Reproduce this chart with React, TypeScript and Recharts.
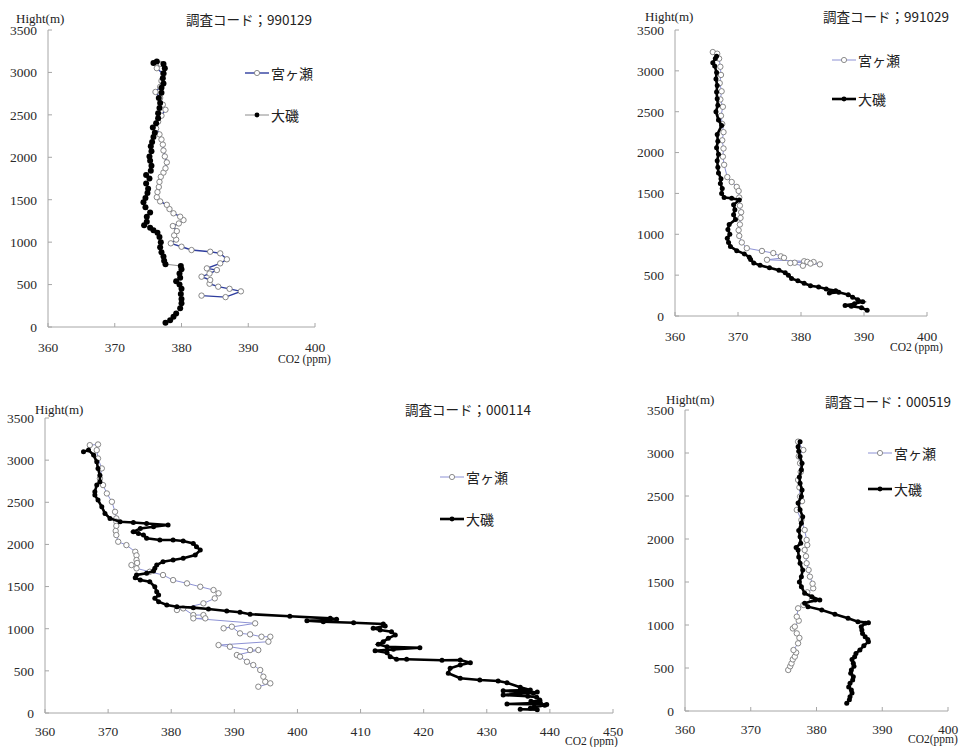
import React from 'react';
import { ScatterChart, Scatter, XAxis, YAxis, Legend } from 'recharts';

type Pt = [number, number]; // [CO2 ppm, height m]

// ---- 調査コード；990129 ----
const miyagase990129: Pt[] = [
  [383.0, 370], [386.6, 352], [388.9, 420], [387.2, 450], [385.5, 475], [384.2, 510], [384.3, 554],
  [383.0, 593], [384.2, 630], [385.3, 671], [383.8, 691], [385.8, 750], [386.8, 798], [385.8, 868],
  [384.3, 887], [381.5, 907], [380.0, 946], [378.4, 986], [379.2, 1030], [378.9, 1080], [379.3, 1130],
  [378.7, 1190], [379.6, 1220], [380.3, 1260], [379.8, 1300], [378.8, 1340], [378.2, 1390], [377.8, 1440],
  [376.8, 1480], [376.3, 1530], [376.4, 1590], [376.6, 1650], [376.7, 1710], [376.9, 1770], [377.3, 1820],
  [377.6, 1870], [377.8, 1940], [377.5, 2010], [377.3, 2080], [377.2, 2150], [377.0, 2210], [376.7, 2270],
  [376.2, 2340], [376.5, 2420], [377.0, 2490], [377.6, 2560], [377.2, 2620], [376.8, 2700], [376.1, 2770],
  [376.8, 2830], [377.0, 2900], [377.3, 2980], [376.3, 3050], [376.9, 3100],
];
const oiso990129: Pt[] = [
  [377.6, 50], [378.3, 80], [378.8, 120], [379.2, 160], [379.8, 220], [380.0, 280], [380.0, 330],
  [379.9, 390], [380.0, 450], [379.7, 500], [379.2, 540], [379.8, 580], [379.7, 630], [380.0, 680],
  [379.9, 720], [377.6, 740], [377.4, 780], [377.3, 830], [377.0, 880], [376.8, 940], [376.9, 1000],
  [376.7, 1060], [376.4, 1110], [375.8, 1140], [375.3, 1170], [374.4, 1200], [374.8, 1240], [374.8, 1300],
  [375.3, 1350], [374.6, 1410], [374.3, 1470], [374.6, 1520], [374.9, 1580], [375.0, 1630], [374.7, 1690],
  [375.2, 1750], [374.7, 1790], [375.4, 1840], [375.5, 1900], [375.3, 1960], [375.2, 2010], [375.5, 2070],
  [375.4, 2130], [375.6, 2180], [375.8, 2240], [376.0, 2290], [375.7, 2350], [376.2, 2400], [376.5, 2460],
  [376.5, 2520], [376.7, 2580], [376.8, 2640], [376.6, 2700], [377.0, 2760], [377.0, 2820], [377.3, 2870],
  [377.2, 2930], [377.3, 2990], [377.5, 3050], [377.3, 3100], [376.3, 3130], [375.8, 3110],
];

// ---- 調査コード；991029 ----
const miyagase991029: Pt[] = [
  [366.0, 3230], [366.7, 3210], [367.0, 3150], [367.2, 3050], [367.3, 2950], [367.1, 2850], [367.4, 2750],
  [367.2, 2650], [367.6, 2560], [367.3, 2450], [367.5, 2350], [367.7, 2250], [367.5, 2150], [367.7, 2050],
  [367.6, 1950], [367.8, 1850], [368.3, 1700], [369.0, 1640], [369.8, 1580], [370.1, 1530], [370.2, 1450],
  [370.3, 1350], [370.5, 1270], [370.4, 1200], [370.3, 1120], [370.1, 1050], [370.2, 980], [370.6, 900],
  [371.4, 830], [373.8, 796], [375.6, 770], [376.8, 730], [377.3, 712], [374.6, 688], [380.5, 670],
  [379.0, 652], [381.0, 662], [382.0, 660], [383.0, 632], [381.5, 642], [380.3, 615], [378.3, 648],
];
const oiso991029: Pt[] = [
  [390.5, 70], [389.6, 100], [388.0, 120], [387.0, 130], [388.5, 150], [389.8, 175], [389.0, 200],
  [388.2, 230], [387.5, 260], [386.0, 290], [384.5, 280], [385.5, 310], [384.0, 330], [382.8, 355],
  [381.5, 370], [380.5, 400], [379.5, 430], [378.5, 460], [378.0, 500], [377.5, 530], [376.5, 560],
  [375.0, 590], [373.5, 620], [372.5, 650], [372.0, 690], [371.8, 720], [371.0, 760], [369.8, 800],
  [368.8, 850], [368.5, 900], [368.3, 950], [368.7, 1000], [368.4, 1060], [368.6, 1120], [369.6, 1180],
  [369.3, 1240], [369.5, 1300], [369.3, 1360], [370.2, 1420], [369.0, 1440], [367.8, 1450], [367.4, 1500],
  [367.5, 1560], [367.2, 1620], [367.3, 1680], [366.9, 1750], [366.8, 1820], [366.7, 1900], [366.9, 1980],
  [366.6, 2060], [366.8, 2140], [366.7, 2220], [367.4, 2330], [366.9, 2400], [366.5, 2500], [366.8, 2580],
  [366.7, 2660], [366.6, 2740], [366.7, 2820], [366.5, 2900], [366.6, 2980], [366.3, 3060], [366.0, 3100],
  [366.4, 3150], [366.6, 3180],
];

// ---- 調査コード；000114 ----
const miyagase000114: Pt[] = [
  [367.1, 3178], [368.4, 3186], [368.2, 3119], [368.4, 3020], [369.0, 2902], [368.7, 2783], [369.2, 2704],
  [369.8, 2605], [370.6, 2506], [371.1, 2387], [371.3, 2309], [371.3, 2270], [371.3, 2220], [371.2, 2160],
  [371.3, 2111], [371.6, 2032], [372.9, 1992], [374.3, 1913], [374.5, 1870], [374.5, 1815], [374.6, 1780],
  [373.7, 1755], [374.5, 1716], [376.6, 1676], [378.7, 1637], [380.3, 1577], [382.5, 1538], [384.6, 1498],
  [386.7, 1459], [387.5, 1420], [386.9, 1360], [385.1, 1301], [380.9, 1222], [381.9, 1241], [383.5, 1162],
  [385.1, 1162], [385.4, 1123], [383.5, 1123], [393.3, 1064], [388.3, 1005], [389.6, 1024], [390.9, 945],
  [392.5, 933], [394.3, 905], [395.7, 905], [395.4, 846], [387.5, 806], [389.3, 786], [392.5, 747],
  [393.8, 747], [390.4, 688], [390.9, 668], [392.0, 608], [393.0, 569], [394.1, 510], [394.6, 431],
  [394.9, 371], [395.7, 352], [393.8, 312],
];
const oiso000114: Pt[] = [
  [366.1, 3099], [366.9, 3119], [367.7, 3060], [368.2, 2980], [368.4, 2902], [368.7, 2820], [368.7, 2743],
  [368.2, 2704], [367.9, 2625], [367.9, 2585], [368.4, 2526], [369.0, 2447], [369.5, 2368], [370.3, 2309],
  [371.9, 2269], [374.0, 2261], [376.1, 2249], [379.5, 2230], [377.2, 2210], [375.1, 2190], [374.0, 2150],
  [374.8, 2131], [375.6, 2111], [376.1, 2072], [378.2, 2052], [380.3, 2052], [381.9, 2040], [383.5, 2012],
  [384.0, 1972], [384.6, 1933], [383.8, 1874], [381.9, 1835], [380.3, 1815], [378.7, 1795], [377.7, 1755],
  [377.4, 1716], [377.2, 1684], [376.1, 1657], [374.5, 1637], [374.3, 1605], [375.1, 1577], [376.6, 1557],
  [377.4, 1498], [377.7, 1439], [378.0, 1399], [377.4, 1360], [378.0, 1320], [379.3, 1281], [380.9, 1261],
  [383.5, 1250], [385.9, 1233], [388.8, 1210], [390.9, 1195], [392.5, 1172], [398.8, 1148], [405.2, 1123],
  [406.2, 1111], [401.5, 1095], [404.1, 1083], [408.9, 1071], [413.6, 1056], [413.9, 1032], [412.0, 1005],
  [413.1, 984], [414.9, 964], [415.5, 925], [414.4, 886], [413.6, 846], [412.8, 815], [414.2, 786],
  [419.4, 775], [415.2, 755], [412.3, 739], [414.2, 715], [414.7, 668], [415.7, 637], [417.3, 637],
  [422.9, 625], [425.8, 628], [427.4, 597], [425.8, 569], [424.2, 530], [423.9, 471], [425.8, 412],
  [428.9, 391], [431.8, 380], [433.2, 360], [435.3, 305], [436.9, 273], [432.6, 264], [437.4, 234],
  [438.0, 250], [432.6, 213], [436.5, 200], [437.9, 186], [438.4, 154], [437.0, 140], [438.5, 120],
  [433.2, 107], [439.5, 100], [439.2, 91], [437.5, 70], [436.9, 56], [438.0, 40], [435.3, 44],
];

// ---- 調査コード：000519 ----
const miyagase000519: Pt[] = [
  [375.7, 477], [376.0, 520], [376.2, 554], [376.4, 600], [376.7, 632], [376.9, 680], [376.5, 709],
  [377.2, 787], [377.4, 850], [377.0, 903], [376.4, 960], [376.7, 981], [377.3, 1050], [377.0, 1097],
  [377.2, 1194], [378.0, 1233], [379.3, 1291], [378.6, 1380], [379.5, 1427], [379.4, 1480], [379.0, 1562],
  [378.8, 1640], [378.5, 1718], [378.4, 1800], [378.2, 1872], [378.6, 1930], [378.5, 1989], [378.2, 2105],
  [377.7, 2221], [377.0, 2338], [377.8, 2440], [377.5, 2494], [377.4, 2600], [377.2, 2687], [377.6, 2780],
  [377.5, 2881], [377.3, 2960], [378.0, 3035], [377.2, 3132],
];
const oiso000519: Pt[] = [
  [384.6, 89], [385.0, 130], [385.1, 167], [385.4, 210], [385.3, 244], [384.9, 280], [385.1, 322],
  [385.5, 360], [385.6, 399], [385.2, 440], [385.3, 477], [385.7, 520], [385.6, 554], [385.4, 600],
  [385.8, 632], [386.0, 670], [386.6, 709], [387.2, 760], [387.9, 806], [387.8, 830], [387.4, 864],
  [387.0, 900], [386.9, 942], [386.8, 980], [387.4, 1020], [387.9, 1027], [386.3, 1039], [384.8, 1078],
  [382.8, 1125], [380.8, 1175], [378.7, 1213], [378.2, 1252], [379.8, 1291], [380.5, 1291], [379.3, 1329],
  [378.2, 1369], [377.7, 1446], [377.4, 1500], [377.7, 1562], [377.9, 1640], [377.5, 1718], [377.3, 1790],
  [377.2, 1872], [376.9, 1900], [377.6, 1950], [377.5, 2027], [377.3, 2100], [377.7, 2183], [377.9, 2260],
  [377.5, 2339], [377.2, 2420], [377.7, 2494], [377.8, 2570], [377.5, 2649], [377.4, 2720], [377.7, 2804],
  [377.8, 2880], [377.5, 2959], [377.3, 3020], [377.2, 3074], [377.5, 3132],
];

const heightTicks = [0, 500, 1000, 1500, 2000, 2500, 3000, 3500];
const co2Ticks400 = [360, 370, 380, 390, 400];
const co2Ticks450 = [360, 370, 380, 390, 400, 410, 420, 430, 440, 450];

const NAME_MIYAGASE = '宮ヶ瀬';
const NAME_OISO = '大磯';

const AXIS_FONT = '"Liberation Serif", "DejaVu Serif", serif';
const CJK_FONT = '"Noto Sans CJK JP", sans-serif';

const toRows = (pts: Pt[]) => pts.map(([co2, h]) => ({ co2, h }));

const HollowDot = (props: any) => (
  <circle cx={props.cx} cy={props.cy} r={2.7} fill="#ffffff" stroke="#7a7a7a" strokeWidth={0.9} />
);
const makeFilledDot = (r: number) => (props: any) => (
  <circle cx={props.cx} cy={props.cy} r={r} fill="#000000" />
);

type SeriesStyle = { stroke: string; width: number; hollow: boolean; r: number };

const LegendBox = ({ items, gap }: { items: { name: string; s: SeriesStyle }[]; gap: number }) => (
  <div style={{ display: 'flex', flexDirection: 'column' }}>
    {items.map((it, i) => (
      <div key={it.name} style={{ display: 'flex', alignItems: 'center', height: 16, marginTop: i === 0 ? 0 : gap - 16 }}>
        <svg width={24} height={16} style={{ display: 'block' }}>
          <line x1={0} y1={8} x2={24} y2={8} stroke={it.s.stroke} strokeWidth={it.s.width} />
          {it.s.hollow ? (
            <circle cx={12} cy={8} r={2.6} fill="#fff" stroke="#808080" strokeWidth={0.9} />
          ) : (
            <circle cx={12} cy={8} r={2.4} fill="#000" />
          )}
        </svg>
        <span style={{ fontFamily: CJK_FONT, fontSize: 14, color: '#222', marginLeft: 2, lineHeight: '16px' }}>{it.name}</span>
      </div>
    ))}
  </div>
);

type PanelProps = {
  left: number; top: number; width: number; height: number;
  margin: { top: number; right: number; bottom: number; left: number };
  yWidth: number; xMax: number; xTicks: number[]; xTickMargin: number;
  miyagase: Pt[]; oiso: Pt[];
  mStyle: SeriesStyle; oStyle: SeriesStyle;
  legendLeft: number; legendTop: number; legendGap: number;
};

const Panel = (p: PanelProps) => {
  const tickStyle = { fill: '#2a2a2a', fontSize: 13.5, fontFamily: AXIS_FONT };
  return (
    <div style={{ position: 'absolute', left: p.left, top: p.top, width: p.width, height: p.height }}>
      <ScatterChart width={p.width} height={p.height} margin={p.margin}>
        <XAxis
          type="number" dataKey="co2" domain={[360, p.xMax]} ticks={p.xTicks} interval={0}
          allowDataOverflow height={30} stroke="#a6a6a6" tickSize={-4} tickMargin={p.xTickMargin}
          tick={tickStyle}
        />
        <YAxis
          type="number" dataKey="h" domain={[0, 3500]} ticks={heightTicks} interval={0}
          allowDataOverflow width={p.yWidth} stroke="#a6a6a6" tickSize={-4} tickMargin={15}
          tick={tickStyle}
        />
        <Legend
          layout="vertical" align="center" verticalAlign="middle"
          wrapperStyle={{ left: p.legendLeft, top: p.legendTop, width: 'auto', height: 'auto' }}
          content={() => (
            <LegendBox gap={p.legendGap} items={[{ name: NAME_MIYAGASE, s: p.mStyle }, { name: NAME_OISO, s: p.oStyle }]} />
          )}
        />
        <Scatter
          name={NAME_MIYAGASE} data={toRows(p.miyagase)} line={{ stroke: p.mStyle.stroke, strokeWidth: p.mStyle.width }}
          lineType="joint" shape={HollowDot} isAnimationActive={false}
        />
        <Scatter
          name={NAME_OISO} data={toRows(p.oiso)} line={{ stroke: p.oStyle.stroke, strokeWidth: p.oStyle.width }}
          lineType="joint" shape={makeFilledDot(p.oStyle.r)} isAnimationActive={false}
        />
      </ScatterChart>
    </div>
  );
};

const Txt = ({ x, y, size, font, children }: { x: number; y: number; size: number; font: string; children: React.ReactNode }) => (
  <div style={{ position: 'absolute', left: x, top: y, fontSize: size, fontFamily: font, color: '#222', lineHeight: 1, whiteSpace: 'nowrap' }}>
    {children}
  </div>
);

const styleA_m: SeriesStyle = { stroke: '#2e3d9e', width: 1.4, hollow: true, r: 2.7 };
const styleA_o: SeriesStyle = { stroke: '#8c8c8c', width: 1, hollow: false, r: 3 };
const styleB_m: SeriesStyle = { stroke: '#8d92d4', width: 1, hollow: true, r: 2.7 };
const styleB_o: SeriesStyle = { stroke: '#000000', width: 2.6, hollow: false, r: 2.5 };

export default function App() {
  return (
    <div style={{ position: 'absolute', left: 0, top: 0, width: 960, height: 747, background: '#fff', overflow: 'hidden' }}>
      <Panel
        left={0} top={0} width={330} height={370}
        margin={{ top: 30, right: 15, bottom: 13, left: 8 }} yWidth={40}
        xMax={400} xTicks={co2Ticks400} xTickMargin={19}
        miyagase={miyagase990129} oiso={oiso990129} mStyle={styleA_m} oStyle={styleA_o}
        legendLeft={245} legendTop={65} legendGap={42}
      />
      <Panel
        left={620} top={0} width={340} height={360}
        margin={{ top: 30, right: 33, bottom: 14, left: 10 }} yWidth={45}
        xMax={400} xTicks={co2Ticks400} xTickMargin={19}
        miyagase={miyagase991029} oiso={oiso991029} mStyle={styleB_m} oStyle={styleB_o}
        legendLeft={212} legendTop={52} legendGap={39}
      />
      <Panel
        left={0} top={385} width={630} height={362}
        margin={{ top: 33, right: 17, bottom: 4, left: 5 }} yWidth={40}
        xMax={450} xTicks={co2Ticks450} xTickMargin={17}
        miyagase={miyagase000114} oiso={oiso000114} mStyle={styleB_m} oStyle={styleB_o}
        legendLeft={440} legendTop={84} legendGap={42}
      />
      <Panel
        left={640} top={385} width={320} height={362}
        margin={{ top: 25, right: 12, bottom: 6, left: 5 }} yWidth={40}
        xMax={400} xTicks={co2Ticks400} xTickMargin={17}
        miyagase={miyagase000519} oiso={oiso000519} mStyle={styleB_m} oStyle={styleB_o}
        legendLeft={228} legendTop={60} legendGap={36}
      />

      <Txt x={16} y={12} size={13} font={AXIS_FONT}>Hight(m)</Txt>
      <Txt x={186} y={13} size={13.5} font={CJK_FONT}>調査コード；990129</Txt>
      <Txt x={278} y={354} size={11.5} font={AXIS_FONT}>CO2 (ppm)</Txt>

      <Txt x={645} y={10} size={13} font={AXIS_FONT}>Hight(m)</Txt>
      <Txt x={823} y={10} size={13.5} font={CJK_FONT}>調査コード；991029</Txt>
      <Txt x={890} y={342} size={11.5} font={AXIS_FONT}>CO2 (ppm)</Txt>

      <Txt x={35} y={403} size={13} font={AXIS_FONT}>Hight(m)</Txt>
      <Txt x={405} y={403} size={13.5} font={CJK_FONT}>調査コード；000114</Txt>
      <Txt x={565} y={736} size={11.5} font={AXIS_FONT}>CO2 (ppm)</Txt>

      <Txt x={666} y={393} size={13} font={AXIS_FONT}>Hight(m)</Txt>
      <Txt x={825} y={395} size={13.5} font={CJK_FONT}>調査コード：000519</Txt>
      <Txt x={908} y={734} size={11.5} font={AXIS_FONT}>CO2(ppm)</Txt>
    </div>
  );
}
